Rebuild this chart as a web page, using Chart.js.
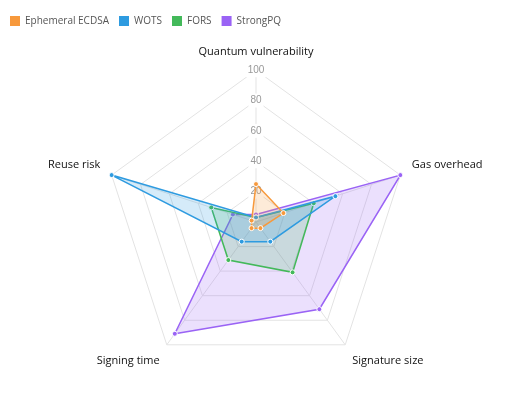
<!DOCTYPE html><html><head><script src="https://cdn.jsdelivr.net/npm/chart.js@4"></script>
<style>html,body{margin:0;background:#fff}#w{width:512px;height:401px}</style></head><body><div id="w"><canvas id="c"></canvas></div>
<script>
const labels=["Quantum vulnerability","Gas overhead","Signature size","Signing time","Reuse risk"];
const ecdsa=[25,19,5,5,3];
const wots=[3,55,16,16,100];
const fors=[3,40,41,31,31];
const strong=[5,100,71,91,16];
const ticks=[0,20,40,60,80,100];
function ds(l,d,c,f){return{label:l,data:d,borderColor:c,backgroundColor:f,borderWidth:1.5,pointRadius:2.5,pointBackgroundColor:c,pointBorderColor:'#fff',pointBorderWidth:1}}
new Chart(document.getElementById('c'),{type:'radar',data:{labels,datasets:[
ds('Ephemeral ECDSA',ecdsa,'#f7993c','rgba(247,153,60,0.2)'),
ds('WOTS',wots,'#2e9be0','rgba(46,155,224,0.2)'),
ds('FORS',fors,'#43b95a','rgba(67,185,90,0.2)'),
ds('StrongPQ',strong,'#9a63f5','rgba(154,99,245,0.2)')]},
options:{responsive:true,maintainAspectRatio:false,animation:false,layout:{padding:{top:6,bottom:10,left:0,right:0}},
plugins:{legend:{align:'start',labels:{boxWidth:10,boxHeight:10,font:{size:10,family:'Open Sans'},color:'#555',
generateLabels:(ch)=>Chart.defaults.plugins.legend.labels.generateLabels(ch).map(i=>Object.assign(i,{fillStyle:i.strokeStyle,lineWidth:0}))}}},
scales:{r:{min:0,max:100,ticks:{stepSize:20,color:'#999',font:{size:10},backdropColor:'#fff'},grid:{color:'#e3e3e3'},angleLines:{color:'#e3e3e3'},pointLabels:{font:{size:11,family:'Open Sans'},color:'#111'}}}}});
</script></body></html>
